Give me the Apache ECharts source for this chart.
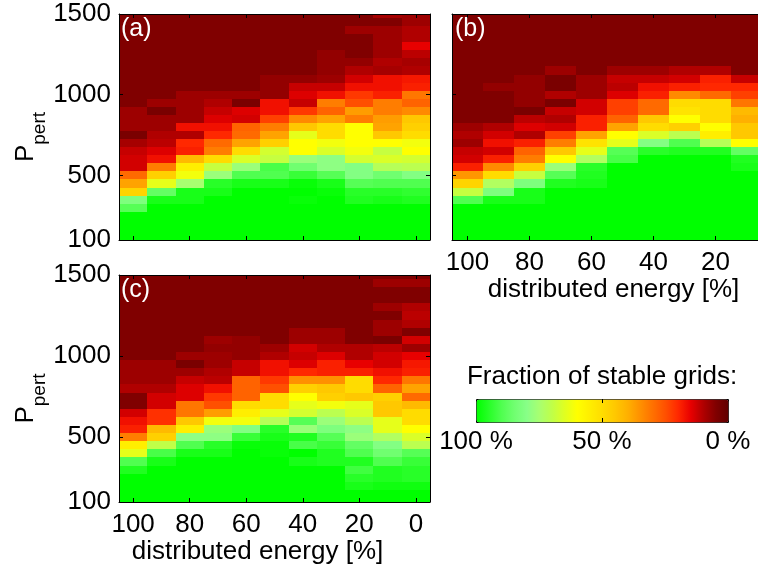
<!DOCTYPE html>
<html>
<head>
<meta charset="utf-8">
<script src="https://cdn.jsdelivr.net/npm/echarts@6/dist/echarts.min.js"></script>
<style>
html, body { margin: 0; padding: 0; background: #fff; }
#main { width: 758px; height: 574px; }
</style>
</head>
<body>
<div id="main"></div>
<script>
// distributed energy columns (left to right) and perturbation rows (top to bottom)
const energy = ['100', '90', '80', '70', '60', '50', '40', '30', '20', '10', '0'];
const pert = [1500, 1450, 1400, 1350, 1300, 1250, 1200, 1150, 1100, 1050, 1000, 950, 900, 850, 800,
              750, 700, 650, 600, 550, 500, 450, 400, 350, 300, 250, 200, 150, 100];
const pertTicks = [100, 500, 1000, 1500];
const energyTicks = [100, 80, 60, 40, 20, 0];

// fraction of stable grids [%], one row per P_pert value
const stableA = [
  [5, 5, 5, 5, 5, 5, 5, 5, 5, 9, 8],
  [5, 5, 5, 5, 5, 5, 5, 5, 5, 5, 8],
  [5, 5, 5, 5, 5, 5, 5, 5, 8, 8, 10],
  [5, 5, 5, 5, 5, 5, 5, 5, 5, 8, 10],
  [5, 5, 5, 5, 5, 5, 5, 5, 5, 8, 15],
  [5, 5, 5, 5, 5, 5, 5, 7, 5, 8, 11],
  [5, 5, 5, 5, 5, 5, 5, 7, 7, 10, 9],
  [5, 5, 5, 5, 5, 5, 5, 7, 10, 9, 10],
  [5, 5, 5, 5, 5, 7, 7, 8, 13, 17, 18],
  [5, 5, 5, 5, 5, 7, 12, 12, 17, 17, 19],
  [5, 5, 8, 8, 8, 7, 14, 17, 22, 19, 31],
  [5, 8, 8, 10, 4, 17, 12, 32, 25, 32, 28],
  [8, 4, 8, 12, 14, 17, 22, 28, 37, 32, 34],
  [8, 8, 8, 14, 13, 23, 34, 38, 32, 37, 45],
  [8, 8, 17, 17, 28, 32, 45, 50, 60, 38, 47],
  [4, 10, 10, 20, 29, 38, 64, 50, 60, 45, 50],
  [9, 11, 20, 29, 38, 47, 60, 62, 60, 60, 62],
  [12, 14, 19, 32, 50, 67, 60, 66, 62, 69, 60],
  [13, 17, 42, 50, 66, 69, 77, 79, 67, 66, 67],
  [13, 32, 55, 69, 77, 91, 85, 79, 81, 72, 71],
  [29, 47, 62, 77, 90, 90, 93, 89, 81, 85, 81],
  [38, 64, 75, 95, 97, 97, 99, 97, 89, 90, 90],
  [48, 87, 97, 97, 100, 100, 100, 99, 95, 95, 94],
  [82, 97, 97, 100, 100, 100, 99, 100, 96, 97, 96],
  [89, 100, 100, 100, 100, 100, 100, 100, 100, 100, 100],
  [100, 100, 100, 100, 100, 100, 100, 100, 100, 100, 100],
  [100, 100, 100, 100, 100, 100, 100, 100, 100, 100, 100],
  [100, 100, 100, 100, 100, 100, 100, 100, 100, 100, 100],
  [100, 100, 100, 100, 100, 100, 100, 100, 100, 100, 100]
];

// panel (b) is cut at the right edge, the last column is not visible
const stableB = [
  [5, 5, 5, 5, 5, 5, 5, 5, 5, 5],
  [5, 5, 5, 5, 5, 5, 5, 5, 5, 5],
  [5, 5, 5, 5, 5, 5, 5, 5, 5, 5],
  [5, 5, 5, 5, 5, 5, 5, 5, 5, 5],
  [5, 5, 5, 5, 5, 5, 5, 5, 5, 5],
  [5, 5, 5, 5, 5, 5, 5, 5, 5, 5],
  [5, 5, 5, 5, 5, 5, 5, 5, 5, 5],
  [5, 5, 5, 8, 5, 8, 8, 10, 10, 5],
  [5, 5, 7, 4, 8, 12, 12, 13, 19, 12],
  [5, 7, 7, 4, 8, 11, 17, 19, 20, 20],
  [5, 5, 7, 10, 8, 14, 19, 34, 29, 23],
  [5, 5, 7, 4, 13, 23, 29, 50, 50, 31],
  [5, 5, 4, 12, 13, 23, 29, 52, 50, 42],
  [5, 5, 11, 10, 19, 28, 45, 60, 50, 40],
  [8, 10, 14, 13, 19, 38, 50, 47, 60, 45],
  [10, 13, 10, 23, 38, 60, 66, 71, 55, 45],
  [8, 17, 19, 32, 52, 64, 81, 90, 72, 60],
  [12, 13, 28, 45, 64, 89, 95, 96, 96, 87],
  [13, 19, 32, 60, 73, 91, 100, 100, 100, 96],
  [19, 34, 47, 77, 95, 100, 100, 100, 100, 97],
  [36, 50, 69, 89, 96, 100, 100, 100, 100, 100],
  [48, 73, 82, 96, 97, 100, 100, 100, 100, 100],
  [69, 82, 97, 100, 100, 100, 100, 100, 100, 100],
  [90, 97, 97, 100, 100, 100, 100, 100, 100, 100],
  [100, 100, 100, 100, 100, 100, 100, 100, 100, 100],
  [100, 100, 100, 100, 100, 100, 100, 100, 100, 100],
  [100, 100, 100, 100, 100, 100, 100, 100, 100, 100],
  [100, 100, 100, 100, 100, 100, 100, 100, 100, 100],
  [100, 100, 100, 100, 100, 100, 100, 100, 100, 100]
];

const stableC = [
  [5, 5, 5, 5, 5, 5, 5, 5, 5, 5, 5],
  [5, 5, 5, 5, 5, 5, 5, 5, 5, 8, 8],
  [5, 5, 5, 5, 5, 5, 5, 5, 5, 5, 5],
  [5, 5, 5, 5, 5, 5, 5, 5, 5, 5, 5],
  [5, 5, 5, 5, 5, 5, 5, 5, 5, 8, 10],
  [5, 5, 5, 5, 5, 5, 5, 5, 5, 5, 11],
  [5, 5, 5, 5, 5, 5, 5, 5, 5, 8, 10],
  [5, 5, 5, 5, 5, 5, 8, 8, 5, 8, 5],
  [5, 5, 5, 8, 7, 5, 8, 8, 5, 4, 13],
  [5, 5, 5, 7, 7, 8, 13, 10, 10, 11, 8],
  [5, 5, 8, 8, 7, 10, 12, 14, 10, 13, 15],
  [8, 8, 4, 8, 12, 17, 14, 19, 15, 13, 18],
  [8, 8, 8, 10, 12, 17, 20, 19, 19, 17, 19],
  [8, 8, 12, 11, 28, 22, 35, 35, 50, 20, 31],
  [10, 10, 14, 17, 28, 25, 47, 45, 50, 28, 38],
  [5, 13, 14, 22, 28, 50, 60, 47, 45, 47, 29],
  [5, 13, 31, 25, 50, 50, 64, 62, 64, 45, 42],
  [13, 21, 31, 37, 55, 64, 67, 71, 66, 45, 50],
  [17, 21, 45, 62, 62, 72, 89, 77, 71, 64, 50],
  [19, 42, 55, 77, 81, 95, 77, 82, 79, 64, 60],
  [32, 47, 79, 79, 93, 97, 96, 89, 77, 73, 66],
  [55, 70, 90, 95, 99, 99, 91, 93, 87, 81, 71],
  [64, 91, 97, 97, 100, 99, 100, 96, 90, 85, 89],
  [90, 97, 100, 100, 100, 100, 97, 96, 96, 90, 93],
  [96, 100, 100, 100, 100, 100, 100, 100, 92, 96, 95],
  [100, 100, 100, 100, 100, 100, 100, 100, 95, 96, 95],
  [100, 100, 100, 100, 100, 100, 100, 100, 97, 98, 98],
  [100, 100, 100, 100, 100, 100, 100, 100, 100, 100, 100],
  [100, 100, 100, 100, 100, 100, 100, 100, 100, 100, 100]
];

// colour scale from 0 % (dark red) to 100 % (green), equally spaced stops
const colorScale = ['#600000', '#800000', '#b00000', '#e80000', '#ff2800', '#ff5000', '#ff7000',
  '#ff9000', '#ffb000', '#ffc800', '#ffdc00', '#ffee00', '#ffff00', '#e0ff20', '#c0ff48',
  '#a8ff70', '#88ff88', '#70ff70', '#50ff50', '#28ff28', '#00ff00'];

const FONT = "'Liberation Sans', Arial, Helvetica, sans-serif";
const ROW_HALF = 25; // half of the P_pert step

function toCells(rows) {
  let cells = [];
  rows.forEach((row, r) => {
    row.forEach((v, c) => cells.push([c, pert[r], v]));
  });
  return cells;
}

function renderCell(params, api) {
  let col = api.value(0);
  let p = api.value(1);
  let half = api.size([1, 0])[0] / 2;
  let mid = api.coord([col, p]);
  let x0 = Math.round(mid[0] - half);
  let x1 = Math.round(mid[0] + half);
  let y0 = Math.round(api.coord([col, p + ROW_HALF])[1]);
  let y1 = Math.round(api.coord([col, p - ROW_HALF])[1]);
  return {
    type: 'rect',
    shape: {x: x0, y: y0, width: x1 - x0, height: y1 - y0},
    style: {fill: api.visual('color')}
  };
}

function energyAxis(grid, position, labels, name, shift) {
  return {
    type: 'category',
    gridIndex: grid,
    position: position,
    data: energy,
    z: 10,
    axisLine: {show: true, onZero: false, lineStyle: {color: '#000', width: 1}},
    axisTick: {show: true, inside: true, length: 4, interval: 1, alignWithLabel: true, lineStyle: {color: '#000'}},
    axisLabel: {
      show: labels, interval: 1, margin: 10, color: '#000', fontSize: 26, fontFamily: FONT,
      formatter: v => energyTicks.indexOf(+v) >= 0 ? v : ''
    },
    splitLine: {show: false},
    name: name || '',
    nameLocation: 'middle',
    nameGap: 34,
    nameTextStyle: {color: '#000', fontSize: 26, fontFamily: FONT, padding: [0, shift || 0, 0, 0]}
  };
}

function pertAxis(grid, position, labels, withName) {
  return {
    type: 'value',
    gridIndex: grid,
    position: position,
    min: 100,
    max: 1500,
    z: 10,
    axisLine: {show: true, onZero: false, lineStyle: {color: '#000', width: 1}},
    axisTick: {show: true, inside: true, length: 4, customValues: [500, 1000], lineStyle: {color: '#000'}},
    axisLabel: {
      show: labels, customValues: pertTicks, margin: 8, color: '#000', fontSize: 26, fontFamily: FONT,
      formatter: v => String(v)
    },
    splitLine: {show: false},
    name: withName ? '{p|P}{s|pert}' : '',
    nameLocation: 'middle',
    nameRotate: 90,
    nameGap: 62,
    nameTextStyle: {
      padding: [0, 20, 0, 0],
      rich: {
        p: {fontSize: 26, fontFamily: FONT, color: '#000'},
        s: {fontSize: 19, fontFamily: FONT, color: '#000', padding: [28, 0, 0, 0]}
      }
    }
  };
}

let chart = echarts.init(document.getElementById('main'), null, {renderer: 'canvas'});

chart.setOption({
  backgroundColor: '#fff',
  animation: false,
  grid: [
    {left: 119, top: 14, width: 311, height: 226, outerBoundsMode: 'none', containLabel: false},
    {left: 452, top: 14, width: 341, height: 226, outerBoundsMode: 'none', containLabel: false},
    {left: 119, top: 275, width: 311, height: 227, outerBoundsMode: 'none', containLabel: false}
  ],
  xAxis: [
    energyAxis(0, 'bottom', false),
    energyAxis(0, 'top', false),
    energyAxis(1, 'bottom', true, 'distributed energy [%]', 18),
    energyAxis(1, 'top', false),
    energyAxis(2, 'bottom', true, 'distributed energy [%]', 34),
    energyAxis(2, 'top', false)
  ],
  yAxis: [
    pertAxis(0, 'left', true, true),
    pertAxis(0, 'right', false),
    pertAxis(1, 'left', false),
    pertAxis(1, 'right', false),
    pertAxis(2, 'left', true, true),
    pertAxis(2, 'right', false)
  ],
  visualMap: {
    type: 'continuous',
    min: 0,
    max: 100,
    dimension: 2,
    seriesIndex: [0, 1, 2],
    orient: 'horizontal',
    inverse: true,
    left: 476,
    top: 399,
    itemWidth: 23,
    itemHeight: 252,
    calculable: false,
    hoverLink: false,
    padding: 0,
    borderColor: '#000',
    borderWidth: 1,
    inRange: {color: colorScale}
  },
  graphic: [
    {type: 'text', x: 121, y: 17, z: 20, style: {text: '(a)', fill: '#fff', font: '25px ' + FONT}},
    {type: 'text', x: 455, y: 17, z: 20, style: {text: '(b)', fill: '#fff', font: '25px ' + FONT}},
    {type: 'text', x: 121, y: 278, z: 20, style: {text: '(c)', fill: '#fff', font: '25px ' + FONT}},
    {type: 'text', x: 602, y: 364, style: {text: 'Fraction of stable grids:', fill: '#000', font: '26px ' + FONT, align: 'center', verticalAlign: 'top'}},
    {type: 'text', x: 476, y: 429, style: {text: '100 %', fill: '#000', font: '26px ' + FONT, align: 'center', verticalAlign: 'top'}},
    {type: 'text', x: 602, y: 429, style: {text: '50 %', fill: '#000', font: '26px ' + FONT, align: 'center', verticalAlign: 'top'}},
    {type: 'text', x: 728, y: 429, style: {text: '0 %', fill: '#000', font: '26px ' + FONT, align: 'center', verticalAlign: 'top'}},
    {type: 'line', z: 20, shape: {x1: 602.5, y1: 399, x2: 602.5, y2: 403}, style: {stroke: '#000', lineWidth: 1}},
    {type: 'line', z: 20, shape: {x1: 602.5, y1: 418, x2: 602.5, y2: 422}, style: {stroke: '#000', lineWidth: 1}}
  ],
  series: [
    {type: 'custom', name: 'a', xAxisIndex: 0, yAxisIndex: 0, clip: true, renderItem: renderCell,
     encode: {x: 0, y: 1}, data: toCells(stableA)},
    {type: 'custom', name: 'b', xAxisIndex: 2, yAxisIndex: 2, clip: true, renderItem: renderCell,
     encode: {x: 0, y: 1}, data: toCells(stableB)},
    {type: 'custom', name: 'c', xAxisIndex: 4, yAxisIndex: 4, clip: true, renderItem: renderCell,
     encode: {x: 0, y: 1}, data: toCells(stableC)}
  ]
});
</script>
</body>
</html>
